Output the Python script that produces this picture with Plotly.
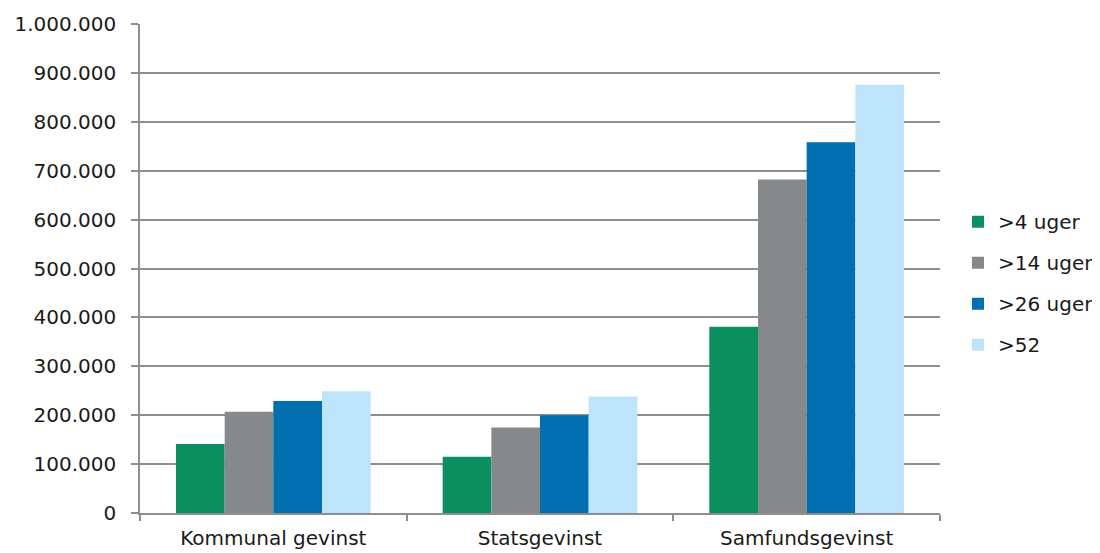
import plotly.graph_objects as go

categories = ['Kommunal gevinst', 'Statsgevinst', 'Samfundsgevinst']
series_names = ['>4 uger', '>14 uger', '>26 uger', '>52']
uger_4 = [141000, 115000, 381000]
uger_14 = [207000, 175000, 682000]
uger_26 = [229000, 200000, 758000]
uger_52 = [249000, 238000, 876000]
tick_vals = [0, 100000, 200000, 300000, 400000, 500000, 600000, 700000, 800000, 900000, 1000000]
tick_text = ['0', '100.000', '200.000', '300.000', '400.000', '500.000', '600.000',
             '700.000', '800.000', '900.000', '1.000.000']

colors = ['#0C8F5F', '#86898B', '#006EAF', '#BEE4FC']
values = [uger_4, uger_14, uger_26, uger_52]

fig = go.Figure()
for name, vals, c in zip(series_names, values, colors):
    fig.add_trace(go.Bar(x=categories, y=vals, name=name, marker=dict(color=c, line=dict(width=0)),
                         legendgroup=name))

grid = '#8E8E8E'
# page body has an 8px margin, so the figure is a bit smaller than the window
fig.update_layout(
    width=1092, height=545,
    margin=dict(l=132, r=160, t=16, b=40, autoexpand=False),
    paper_bgcolor='white', plot_bgcolor='white',
    barmode='group', bargap=0.27, bargroupgap=0,
    font=dict(family='DejaVu Sans, Verdana, sans-serif', size=20, color='#1a1a1a'),
    legend=dict(x=1.0225, xanchor='left', y=0.47, yanchor='middle',
                traceorder='grouped', tracegroupgap=12, font=dict(size=20),
                itemwidth=30),
    showlegend=True,
)
fig.update_yaxes(range=[0, 1000000], tickvals=tick_vals, ticktext=tick_text,
                 showgrid=True, gridcolor=grid, gridwidth=1.5,
                 showline=True, linecolor=grid, linewidth=1.5,
                 ticks='outside', ticklen=7, tickcolor=grid, tickwidth=1.5,
                 zeroline=False, automargin=False, ticklabelstandoff=11)
fig.update_xaxes(showline=True, linecolor=grid, linewidth=1.5,
                 ticks='outside', ticklen=6, tickcolor=grid, tickwidth=1.5,
                 tickson='boundaries', showgrid=False, ticklabelstandoff=6,
                 automargin=False)

fig.write_html("out.html")
